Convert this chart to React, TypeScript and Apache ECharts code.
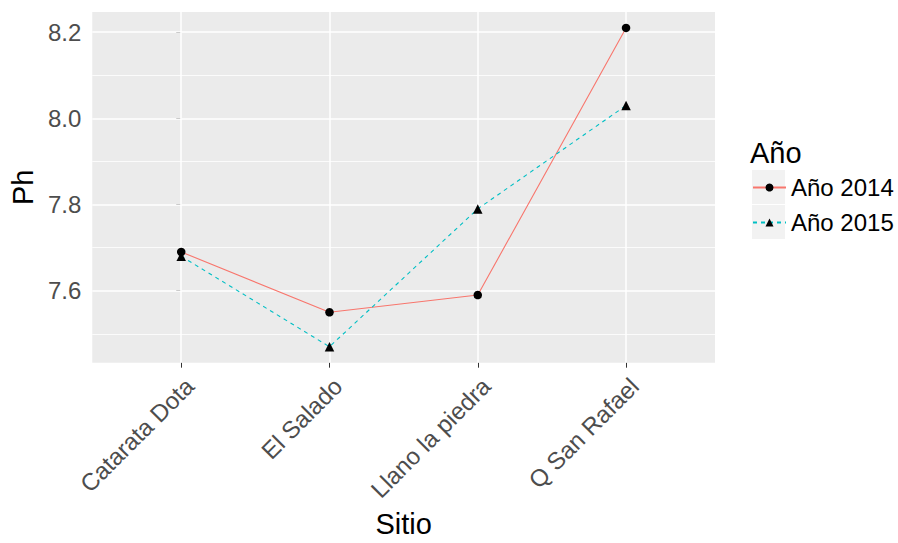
import React, { useEffect, useRef } from "react";
import * as echarts from "echarts";

const sitios = ["Catarata Dota", "El Salado", "Llano la piedra", "Q San Rafael"];
const ph2014 = [7.69, 7.55, 7.59, 8.21];
const ph2015 = [7.68, 7.47, 7.79, 8.03];
const yTicks = [7.6, 7.8, 8.0, 8.2];
const yMinor = [7.5, 7.7, 7.9, 8.1];
const serieNames = ["Año 2014", "Año 2015"];
const legendTitle = "Año";

const FONT = "'Liberation Sans', Arial, sans-serif";

export default function App() {
  const ref = useRef<HTMLDivElement>(null);
  useEffect(() => {
    if (!ref.current) return;
    const chart = echarts.init(ref.current, null, { renderer: "svg" });
    const xIdx = sitios.map((_, i) => i);
    const gridLines = [
      ...yMinor.map((v) => ({ yAxis: v, lineStyle: { width: 0.8, color: "#FFFFFF", type: "solid" } })),
      ...yTicks.map((v) => ({ yAxis: v, lineStyle: { width: 1.5, color: "#FFFFFF", type: "solid" } })),
      ...xIdx.map((v) => ({ xAxis: v, lineStyle: { width: 1.5, color: "#FFFFFF", type: "solid" } })),
    ];
    chart.setOption({
      animation: false,
      textStyle: { fontFamily: FONT },
      grid: {
        left: 90,
        right: 183,
        top: 12,
        bottom: 179,
        show: true,
        backgroundColor: "#EBEBEB",
        borderWidth: 0,
        containLabel: false,
      },
      xAxis: {
        type: "value",
        min: -0.6,
        max: 3.6,
        axisLine: { show: false },
        splitLine: { show: false },
        axisTick: { show: true, customValues: xIdx, length: 5, lineStyle: { color: "#333333", width: 1 } },
        axisLabel: {
          customValues: xIdx,
          formatter: (v: number) => sitios[Math.round(v)] ?? "",
          rotate: 45,
          align: "right",
          verticalAlign: "top",
          margin: 11,
          fontSize: 24,
          color: "#4D4D4D",
          fontFamily: FONT,
        },
        name: "Sitio",
        nameLocation: "middle",
        nameGap: 146,
        nameTextStyle: { fontSize: 29, color: "#000000", fontFamily: FONT },
      },
      yAxis: {
        type: "value",
        min: 7.433,
        max: 8.247,
        axisLine: { show: false },
        splitLine: { show: false },
        axisTick: { show: true, customValues: yTicks, length: 5, lineStyle: { color: "#333333", width: 1 } },
        axisLabel: {
          customValues: yTicks,
          formatter: (v: number) => v.toFixed(1),
          margin: 11,
          fontSize: 24,
          color: "#4D4D4D",
          fontFamily: FONT,
        },
        name: "Ph",
        nameLocation: "middle",
        nameRotate: 90,
        nameGap: 55,
        nameTextStyle: { fontSize: 29, color: "#000000", fontFamily: FONT },
      },
      legend: {
        data: serieNames,
        orient: "vertical",
        left: 752,
        top: 174.5,
        padding: 0,
        itemWidth: 33,
        itemHeight: 10,
        itemGap: 9,
        selectedMode: false,
        textStyle: { fontSize: 24, color: "#000000", lineHeight: 26, fontFamily: FONT },
      },
      graphic: [
        { type: "rect", left: 752, top: 170, shape: { width: 33, height: 34 }, style: { fill: "#F2F2F2" }, z: -1 },
        { type: "rect", left: 752, top: 205, shape: { width: 33, height: 34 }, style: { fill: "#F2F2F2" }, z: -1 },
        {
          type: "text",
          x: 750,
          y: 153,
          style: { text: legendTitle, font: `29px ${FONT}`, fill: "#000000", verticalAlign: "middle", align: "left" },
        },
      ],
      series: [
        {
          name: "grid",
          type: "line",
          data: [],
          z: 1,
          silent: true,
          markLine: {
            silent: true,
            z: 1,
            symbol: ["none", "none"],
            label: { show: false },
            emphasis: { disabled: true },
            data: gridLines,
          },
        },
        {
          name: serieNames[0],
          type: "line",
          data: ph2014.map((v, i) => [i, v]),
          symbol: "circle",
          symbolSize: 8.5,
          itemStyle: { color: "#000000" },
          lineStyle: { color: "#F8766D", width: 1.1 },
          z: 3,
        },
        {
          name: serieNames[1],
          type: "line",
          data: ph2015.map((v, i) => [i, v]),
          symbol: "triangle",
          symbolSize: 9.5,
          itemStyle: { color: "#000000" },
          lineStyle: { color: "#00BFC4", width: 1.1, type: [4, 4] },
          z: 3,
        },
      ],
    });
    return () => chart.dispose();
  }, []);
  return <div ref={ref} style={{ position: "absolute", left: 0, top: 0, width: 898, height: 543 }} />;
}
